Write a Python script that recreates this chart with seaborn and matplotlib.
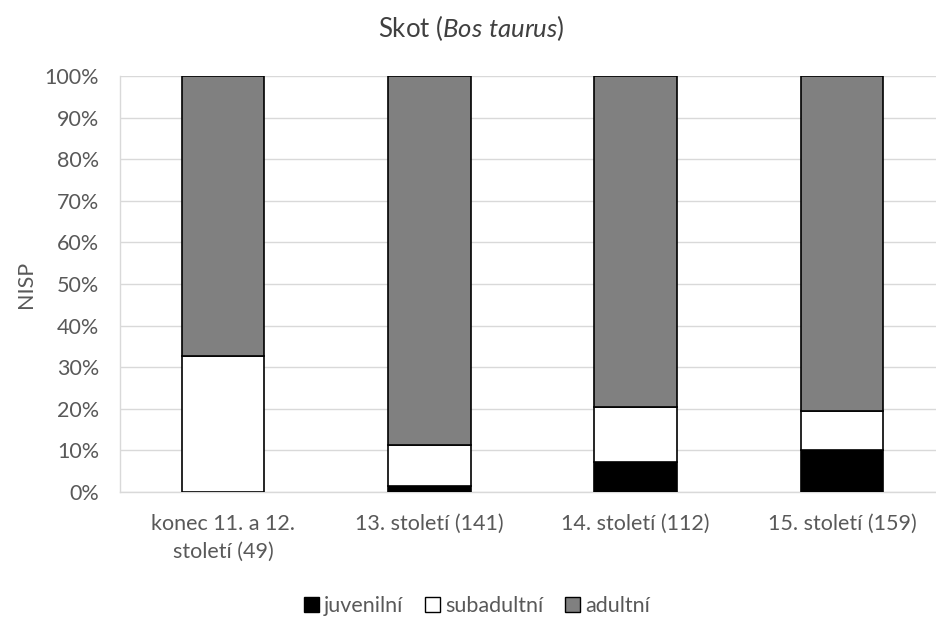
import matplotlib
matplotlib.use("Agg")
import matplotlib.pyplot as plt
from matplotlib.patches import Patch
import seaborn as sns
import pandas as pd
import numpy as np

categories = ["konec 11. a 12.\nstoletí (49)", "13. století (141)", "14. století (112)", "15. století (159)"]
juvenilni = [0.0, 1.4, 7.1, 10.1]
subadultni = [32.6, 9.9, 13.4, 9.4]
adultni = [100 - j - s for j, s in zip(juvenilni, subadultni)]

series_names = ["juvenilní", "subadultní", "adultní"]
series_values = [juvenilni, subadultni, adultni]
series_colors = ["#000000", "#ffffff", "#808080"]

sns.set_theme(style="white")
plt.rcParams["font.family"] = ["Lato", "DejaVu Sans"]
plt.rcParams["mathtext.fontset"] = "custom"
plt.rcParams["mathtext.rm"] = "Lato"
plt.rcParams["mathtext.it"] = "Lato:italic"

text_color = "#595959"
grid_color = "#d9d9d9"
fs = 15.5

fig = plt.figure(figsize=(9.36, 6.17), dpi=100)
ax = fig.add_axes([120 / 936, 125 / 617, 825 / 936, 416 / 617])

df = pd.DataFrame({"category": categories})
bottom = np.zeros(len(categories))
for name, vals, col in zip(series_names, series_values, series_colors):
    df[name] = vals
    sns.barplot(data=df, x="category", y=name, order=categories, color=col,
                bottom=bottom, width=0.4, edgecolor="black", linewidth=1.2,
                saturation=1, ax=ax, zorder=3)
    bottom = bottom + np.array(vals)

ax.set_xlim(-0.5, 3.5)
ax.set_ylim(0, 100)
ax.set_yticks(np.arange(0, 101, 10))
ax.set_yticklabels([f"{v}%" for v in range(0, 101, 10)])
ax.yaxis.grid(True, color=grid_color, linewidth=1.0, zorder=0)
ax.set_axisbelow(True)
for side in ["top", "right"]:
    ax.spines[side].set_visible(False)
for side in ["left", "bottom"]:
    ax.spines[side].set_color(grid_color)
    ax.spines[side].set_linewidth(1.0)
ax.tick_params(axis="both", length=0, labelsize=fs, colors=text_color)
ax.tick_params(axis="y", pad=15)
ax.tick_params(axis="x", pad=16)
for lbl in ax.get_xticklabels():
    lbl.set_linespacing(1.5)
ax.set_xlabel("")
ax.set_ylabel("NISP", fontsize=fs, color=text_color, labelpad=6)

fig.text(0.504, 1 - 28 / 617, r"Skot ($\mathit{Bos\ taurus}$)", ha="center", va="center",
         fontsize=18.5, color="#404040")

handles = [Patch(facecolor=c, edgecolor="black", linewidth=1.0) for c in series_colors]
fig.legend(handles, series_names, loc="center", bbox_to_anchor=(477 / 936, 1 - 606 / 617),
           ncol=3, frameon=False, fontsize=fs, labelcolor=text_color,
           handlelength=0.7, handleheight=0.7, handletextpad=0.25, columnspacing=1.0,
           borderpad=0.1)

fig.savefig("out.png", dpi=100)
